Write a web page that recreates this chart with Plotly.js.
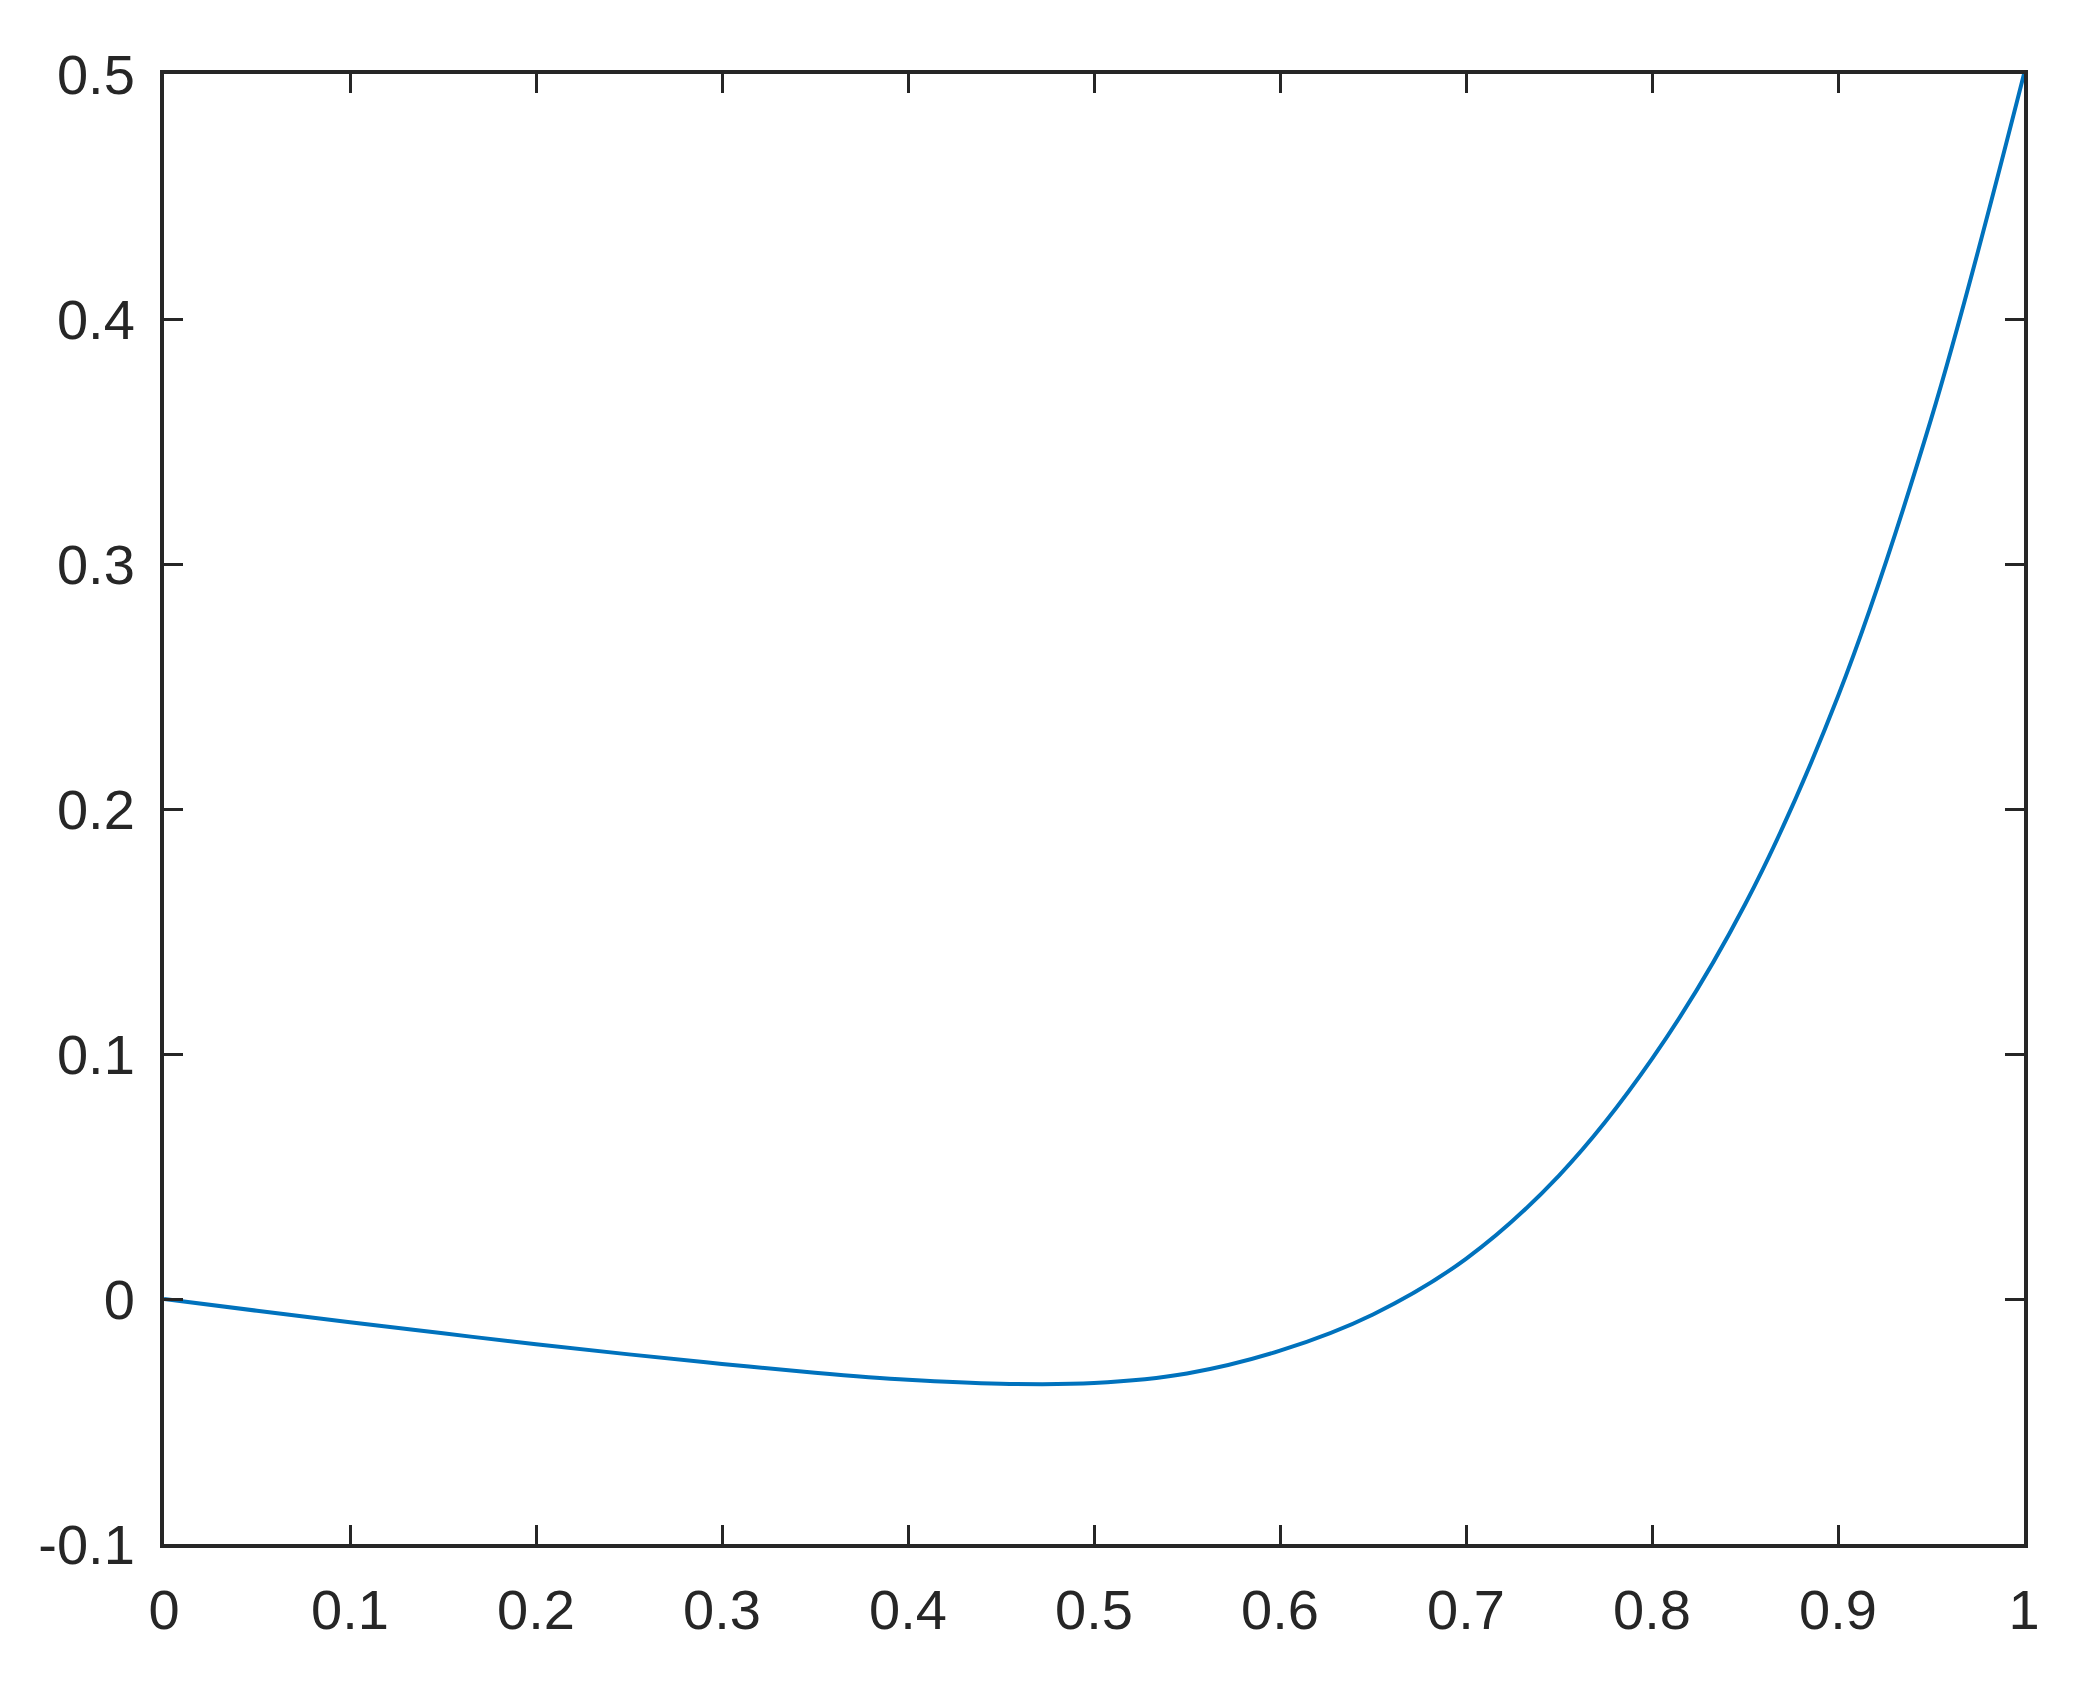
<!DOCTYPE html>
<html>
<head>
<meta charset="utf-8">
<script src="https://cdn.plot.ly/plotly-3.0.1.min.js"></script>
<style>
  html, body { margin: 0; padding: 0; background: #fff; }
  #chart { width: 2078px; height: 1689px; }
</style>
</head>
<body>
<div id="chart"></div>
<script>
// curve, every 0.05
const xVals = [0, 0.05, 0.1, 0.15, 0.2, 0.25, 0.3, 0.35, 0.4, 0.45, 0.5, 0.55, 0.6, 0.65, 0.7, 0.75, 0.8, 0.85, 0.9, 0.95, 1];
const yVals = [0, -0.0048, -0.0095, -0.014, -0.0185, -0.0226, -0.0265, -0.0301, -0.0330, -0.0346, -0.0343, -0.0304, -0.0211, -0.0063, 0.0164, 0.0504, 0.098, 0.161, 0.246, 0.359, 0.5];

const xTicks = [0, 0.1, 0.2, 0.3, 0.4, 0.5, 0.6, 0.7, 0.8, 0.9, 1];
const xTickText = ["0", "0.1", "0.2", "0.3", "0.4", "0.5", "0.6", "0.7", "0.8", "0.9", "1"];
const yTicks = [-0.1, 0, 0.1, 0.2, 0.3, 0.4, 0.5];
const yTickText = ["-0.1", "0", "0.1", "0.2", "0.3", "0.4", "0.5"];

const ink = "#262626";
const font = { family: "Liberation Sans, Arial, Helvetica, sans-serif", size: 56, color: ink };

const axisBase = {
    showgrid: false,
    zeroline: false,
    showline: true,
    linecolor: ink,
    linewidth: 4,
    mirror: "allticks",
    ticks: "inside",
    ticklen: 19,
    tickwidth: 3,
    tickcolor: ink,
    tickfont: font
};

const trace = {
    x: xVals,
    y: yVals,
    type: "scatter",
    mode: "lines",
    line: { color: "#0072BD", width: 4, shape: "spline", smoothing: 1 },
    hoverinfo: "skip"
};

const layout = {
    width: 2078,
    height: 1689,
    margin: { l: 164, r: 54, t: 74, b: 145, pad: 0 },
    paper_bgcolor: "#ffffff",
    plot_bgcolor: "#ffffff",
    showlegend: false,
    font: font,
    xaxis: Object.assign({}, axisBase, {
        range: [0, 1],
        tickmode: "array",
        tickvals: xTicks,
        ticktext: xTickText,
        ticklabelstandoff: 14
    }),
    yaxis: Object.assign({}, axisBase, {
        range: [-0.1, 0.5],
        tickmode: "array",
        tickvals: yTicks,
        ticktext: yTickText,
        ticklabelstandoff: 14
    })
};

Plotly.newPlot("chart", [trace], layout, { staticPlot: true, displayModeBar: false });
</script>
</body>
</html>
